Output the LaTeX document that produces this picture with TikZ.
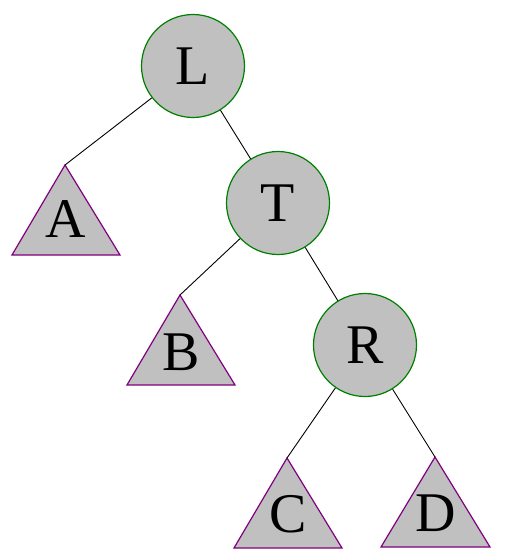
\documentclass[tikz,border=0pt]{standalone}
\usepackage{fontspec}
\setmainfont{Liberation Serif}
\definecolor{fillgray}{HTML}{C0C0C0}
\definecolor{ringgreen}{HTML}{008000}
\definecolor{tripurple}{HTML}{800080}
\begin{document}
\begin{tikzpicture}[x=1pt,y=-1pt,
  circnode/.style={circle,draw=ringgreen,fill=fillgray,line width=1.2pt,minimum size=103pt,inner sep=0pt,font=\fontsize{56}{56}\selectfont},
  trishape/.style={draw=tripurple,fill=fillgray,line width=1.2pt,line join=miter},
  trilabel/.style={inner sep=0pt,font=\fontsize{56}{56}\selectfont},
  edge/.style={draw=black,line width=0.9pt}]
\useasboundingbox (0,0) rectangle (507,560);
% triangles
\coordinate (aA) at (65,165);
\coordinate (aB) at (180,295);
\coordinate (aC) at (287,458);
\coordinate (aD) at (435,457);
\path[trishape] (aA) -- (120,255) -- (12,255) -- cycle;
\path[trishape] (aB) -- (235,385) -- (127,385) -- cycle;
\path[trishape] (aC) -- (342,548) -- (234,548) -- cycle;
\path[trishape] (aD) -- (490,547) -- (381,547) -- cycle;
\node[trilabel] (A) at (66,219) {A};
\node[trilabel] (B) at (181,352) {B};
\node[trilabel] (C) at (288,514) {C};
\node[trilabel] (D) at (436,513) {D};
% circles
\node[circnode] (L) at (193,66) {L};
\node[circnode] (T) at (278,203) {T};
\node[circnode] (R) at (365,345) {R};
% edges
\draw[edge] (L) -- (aA);
\draw[edge] (L) -- (T);
\draw[edge] (T) -- (aB);
\draw[edge] (T) -- (R);
\draw[edge] (R) -- (aC);
\draw[edge] (R) -- (aD);
\end{tikzpicture}
\end{document}
